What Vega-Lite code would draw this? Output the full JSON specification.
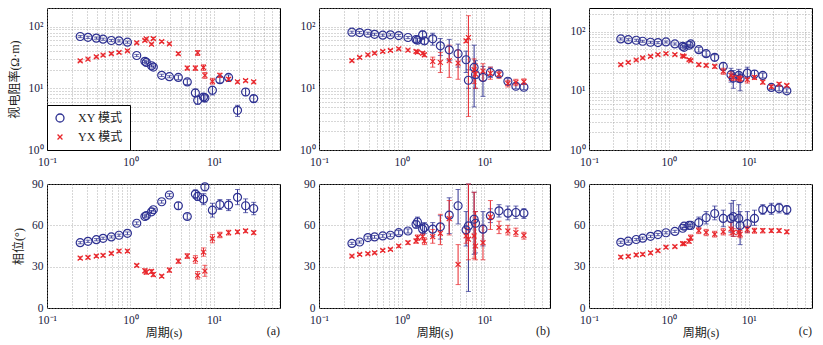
{
"$schema":"https://vega.github.io/schema/vega-lite/v6.json",
"background":"white",
"padding":{"left":8,"top":1,"right":5,"bottom":4},
"config":{
 "font":"Liberation Serif, serif",
 "view":{"stroke":"#000","strokeWidth":1},
 "axis":{"domain":false,"ticks":false,"grid":true,"gridDash":[1,2],"gridColor":"#999","gridWidth":0.8,"labelFont":"Liberation Serif, serif","labelFontSize":11.5,"labelColor":"#202040","labelFlush":false,"labelOverlap":false,"labelPadding":4,"titleFont":"Liberation Serif, Noto Sans CJK SC, serif","titleFontSize":12,"titleFontWeight":"normal","titleColor":"#222","titlePadding":6},
 "axisX":{"labelPadding":6},
 "title":{"font":"Liberation Serif, serif","fontSize":12,"fontWeight":"normal","color":"#222"}
},
"resolve":{"scale":{"color":"independent","shape":"independent","size":"independent"}},
"columns":3,
"spacing":{"row":34,"column":39},
"bounds":"flush",
"data":{"name":"mt"},
"datasets":{"mt":[
{"p":"a","m":"XY 模式","T":0.25,"r":69,"r0":66.2,"r1":71.8,"f":47.4,"f0":46.6,"f1":48.2},
{"p":"a","m":"XY 模式","T":0.31,"r":67,"r0":64.3,"r1":69.7,"f":48.4,"f0":47.6,"f1":49.2},
{"p":"a","m":"XY 模式","T":0.39,"r":65,"r0":62.4,"r1":67.6,"f":49.6,"f0":48.8,"f1":50.4},
{"p":"a","m":"XY 模式","T":0.47,"r":62.5,"r0":60,"r1":65,"f":50.6,"f0":49.8,"f1":51.4},
{"p":"a","m":"XY 模式","T":0.59,"r":59.5,"r0":57.1,"r1":61.9,"f":51.6,"f0":50.8,"f1":52.4},
{"p":"a","m":"XY 模式","T":0.73,"r":58.7,"r0":56.4,"r1":61,"f":52.8,"f0":52,"f1":53.6},
{"p":"a","m":"XY 模式","T":0.92,"r":55.9,"r0":53.7,"r1":58.1,"f":54.2,"f0":53.2,"f1":55.2},
{"p":"a","m":"XY 模式","T":1.19,"r":34,"r0":32.6,"r1":35.4,"f":61.5,"f0":60.5,"f1":62.5},
{"p":"a","m":"XY 模式","T":1.49,"r":27.3,"r0":26.2,"r1":28.4,"f":66.4,"f0":65.4,"f1":67.4},
{"p":"a","m":"XY 模式","T":1.55,"r":26.3,"r0":25.2,"r1":27.4,"f":67.1,"f0":66.1,"f1":68.1},
{"p":"a","m":"XY 模式","T":1.79,"r":23.2,"r0":22.3,"r1":24.1,"f":69.8,"f0":68.8,"f1":70.8},
{"p":"a","m":"XY 模式","T":1.88,"r":22.1,"r0":21.2,"r1":23,"f":71.3,"f0":70.3,"f1":72.3},
{"p":"a","m":"XY 模式","T":2.37,"r":16.2,"r0":15.5,"r1":16.9,"f":77.1,"f0":76.1,"f1":78.1},
{"p":"a","m":"XY 模式","T":2.93,"r":15.4,"r0":14.8,"r1":16,"f":82,"f0":81,"f1":83},
{"p":"a","m":"XY 模式","T":3.75,"r":15,"r0":13.8,"r1":16.3,"f":74.2,"f0":71.7,"f1":76.7},
{"p":"a","m":"XY 模式","T":4.8,"r":12.7,"r0":11.5,"r1":14,"f":66.4,"f0":64.4,"f1":68.4},
{"p":"a","m":"XY 模式","T":6.0,"r":8.4,"r0":7.3,"r1":9.6,"f":82.7,"f0":79.7,"f1":85.7},
{"p":"a","m":"XY 模式","T":6.4,"r":6.4,"r0":5.5,"r1":7.5,"f":81,"f0":78,"f1":84},
{"p":"a","m":"XY 模式","T":7.5,"r":7.2,"r0":6.2,"r1":8.2,"f":79,"f0":75,"f1":83},
{"p":"a","m":"XY 模式","T":7.8,"r":7,"r0":6,"r1":7.8,"f":88,"f0":85,"f1":90},
{"p":"a","m":"XY 模式","T":9.6,"r":9.3,"r0":7.8,"r1":10.8,"f":71,"f0":66,"f1":76},
{"p":"a","m":"XY 模式","T":11.8,"r":13.8,"r0":12.2,"r1":15.5,"f":75.1,"f0":71.5,"f1":78.7},
{"p":"a","m":"XY 模式","T":15,"r":15,"r0":13.5,"r1":16.5,"f":74.7,"f0":70.7,"f1":78.7},
{"p":"a","m":"XY 模式","T":19.2,"r":4.4,"r0":3.5,"r1":5.3,"f":80.3,"f0":75,"f1":86},
{"p":"a","m":"XY 模式","T":24,"r":8.7,"r0":7.6,"r1":9.9,"f":74.2,"f0":69.2,"f1":79.2},
{"p":"a","m":"XY 模式","T":30,"r":6.8,"r0":6,"r1":7.7,"f":72.2,"f0":67.7,"f1":76.7},
{"p":"a","m":"YX 模式","T":0.25,"r":27.9,"r0":26.8,"r1":29,"f":36.2,"f0":35.2,"f1":37.2},
{"p":"a","m":"YX 模式","T":0.31,"r":29.7,"r0":28.5,"r1":30.9,"f":36.7,"f0":35.7,"f1":37.7},
{"p":"a","m":"YX 模式","T":0.39,"r":32.4,"r0":31.1,"r1":33.7,"f":37.7,"f0":36.7,"f1":38.7},
{"p":"a","m":"YX 模式","T":0.47,"r":34.5,"r0":33.1,"r1":35.9,"f":38.2,"f0":37.2,"f1":39.2},
{"p":"a","m":"YX 模式","T":0.59,"r":36.3,"r0":34.8,"r1":37.8,"f":39.6,"f0":38.6,"f1":40.6},
{"p":"a","m":"YX 模式","T":0.73,"r":38.1,"r0":36.6,"r1":39.6,"f":41.3,"f0":40.3,"f1":42.3},
{"p":"a","m":"YX 模式","T":0.92,"r":40.5,"r0":38.9,"r1":42.1,"f":41.3,"f0":40.3,"f1":42.3},
{"p":"a","m":"YX 模式","T":1.19,"r":54.5,"r0":52.3,"r1":56.7,"f":30.9,"f0":29.9,"f1":31.9},
{"p":"a","m":"YX 模式","T":1.49,"r":59.5,"r0":57.1,"r1":61.9,"f":27,"f0":25.5,"f1":28.5},
{"p":"a","m":"YX 模式","T":1.55,"r":63.2,"r0":60.7,"r1":65.7,"f":26,"f0":24.5,"f1":27.5},
{"p":"a","m":"YX 模式","T":1.79,"r":51.9,"r0":49.8,"r1":54,"f":26.5,"f0":25,"f1":28},
{"p":"a","m":"YX 模式","T":1.88,"r":64,"r0":61.4,"r1":66.6,"f":24.3,"f0":22.8,"f1":25.8},
{"p":"a","m":"YX 模式","T":2.37,"r":57.3,"r0":55,"r1":59.6,"f":23.1,"f0":22.1,"f1":24.1},
{"p":"a","m":"YX 模式","T":2.93,"r":52.5,"r0":50.4,"r1":54.6,"f":27.5,"f0":26,"f1":29},
{"p":"a","m":"YX 模式","T":3.75,"r":36.3,"r0":34.5,"r1":38.1,"f":34,"f0":32.5,"f1":35.5},
{"p":"a","m":"YX 模式","T":4.8,"r":21.3,"r0":19.8,"r1":22.8,"f":37.7,"f0":36,"f1":39.4},
{"p":"a","m":"YX 模式","T":6.0,"r":21.3,"r0":19.5,"r1":23,"f":35.3,"f0":32.5,"f1":38},
{"p":"a","m":"YX 模式","T":6.4,"r":37.6,"r0":34,"r1":41,"f":23.6,"f0":21,"f1":26.5},
{"p":"a","m":"YX 模式","T":7.5,"r":21.8,"r0":19.5,"r1":24,"f":40.6,"f0":37.6,"f1":43.6},
{"p":"a","m":"YX 模式","T":7.8,"r":16.2,"r0":14.5,"r1":18,"f":26.8,"f0":23,"f1":31},
{"p":"a","m":"YX 模式","T":9.6,"r":13,"r0":11.7,"r1":14.5,"f":50.3,"f0":47.3,"f1":53.3},
{"p":"a","m":"YX 模式","T":11.8,"r":16.2,"r0":15,"r1":17.5,"f":53,"f0":51,"f1":55},
{"p":"a","m":"YX 模式","T":15,"r":14,"r0":13,"r1":15,"f":54.7,"f0":53,"f1":56.4},
{"p":"a","m":"YX 模式","T":19.2,"r":12.7,"r0":12.1,"r1":13.3,"f":55.2,"f0":54,"f1":56.4},
{"p":"a","m":"YX 模式","T":24,"r":13.3,"r0":12.7,"r1":13.9,"f":55.9,"f0":54.7,"f1":57.1},
{"p":"a","m":"YX 模式","T":30,"r":12.7,"r0":12.1,"r1":13.3,"f":54.7,"f0":53.5,"f1":55.9},
{"p":"b","m":"XY 模式","T":0.25,"r":81,"r0":77.8,"r1":84.2,"f":46.9,"f0":46.1,"f1":47.7},
{"p":"b","m":"XY 模式","T":0.31,"r":80,"r0":76.8,"r1":83.2,"f":47.9,"f0":47.1,"f1":48.7},
{"p":"b","m":"XY 模式","T":0.39,"r":78,"r0":74.9,"r1":81.1,"f":51.1,"f0":50.1,"f1":52.1},
{"p":"b","m":"XY 模式","T":0.47,"r":75,"r0":72,"r1":78,"f":51.6,"f0":50.6,"f1":52.6},
{"p":"b","m":"XY 模式","T":0.59,"r":72.5,"r0":69.6,"r1":75.4,"f":52.3,"f0":51.3,"f1":53.3},
{"p":"b","m":"XY 模式","T":0.73,"r":73.5,"r0":70.6,"r1":76.4,"f":52.8,"f0":51.8,"f1":53.8},
{"p":"b","m":"XY 模式","T":0.92,"r":71.6,"r0":68.7,"r1":74.5,"f":54.7,"f0":53.2,"f1":56.2},
{"p":"b","m":"XY 模式","T":1.19,"r":66.5,"r0":63.8,"r1":69.2,"f":55.9,"f0":54.4,"f1":57.4},
{"p":"b","m":"XY 模式","T":1.49,"r":61.7,"r0":55,"r1":68,"f":60.8,"f0":58,"f1":63},
{"p":"b","m":"XY 模式","T":1.55,"r":60.2,"r0":56,"r1":64.5,"f":62.5,"f0":59,"f1":66},
{"p":"b","m":"XY 模式","T":1.79,"r":73.5,"r0":62,"r1":85,"f":57.2,"f0":53,"f1":61},
{"p":"b","m":"XY 模式","T":1.88,"r":58.7,"r0":52,"r1":66,"f":58.4,"f0":54,"f1":62},
{"p":"b","m":"XY 模式","T":2.37,"r":63.3,"r0":50,"r1":78,"f":57.2,"f0":52,"f1":62},
{"p":"b","m":"XY 模式","T":2.93,"r":48.8,"r0":34,"r1":64,"f":58.9,"f0":50,"f1":67},
{"p":"b","m":"XY 模式","T":3.75,"r":42,"r0":28,"r1":62,"f":67.4,"f0":54,"f1":80},
{"p":"b","m":"XY 模式","T":4.8,"r":36.3,"r0":22,"r1":52,"f":74.2,"f0":61,"f1":86},
{"p":"b","m":"XY 模式","T":6.0,"r":29,"r0":18,"r1":40,"f":56.7,"f0":45,"f1":70},
{"p":"b","m":"XY 模式","T":6.4,"r":13.5,"r0":10,"r1":20,"f":59.6,"f0":12,"f1":90},
{"p":"b","m":"XY 模式","T":7.5,"r":21.8,"r0":5,"r1":50,"f":64.4,"f0":39,"f1":84},
{"p":"b","m":"XY 模式","T":7.8,"r":16.6,"r0":10,"r1":28,"f":61.5,"f0":40,"f1":70},
{"p":"b","m":"XY 模式","T":9.6,"r":15,"r0":7.4,"r1":22.6,"f":57.2,"f0":45,"f1":70},
{"p":"b","m":"XY 模式","T":11.8,"r":18.1,"r0":15,"r1":22,"f":66.9,"f0":62,"f1":72},
{"p":"b","m":"XY 模式","T":15,"r":17.2,"r0":15.5,"r1":19.5,"f":70.5,"f0":66,"f1":75},
{"p":"b","m":"XY 模式","T":19.2,"r":13,"r0":11.5,"r1":14.5,"f":68.8,"f0":64,"f1":74},
{"p":"b","m":"XY 模式","T":24,"r":10.8,"r0":9.8,"r1":12,"f":69.3,"f0":65,"f1":74},
{"p":"b","m":"XY 模式","T":30,"r":10.4,"r0":9.5,"r1":11.5,"f":68.8,"f0":65,"f1":72},
{"p":"b","m":"YX 模式","T":0.25,"r":28,"r0":26.9,"r1":29.1,"f":37.7,"f0":36.9,"f1":38.5},
{"p":"b","m":"YX 模式","T":0.31,"r":31.6,"r0":30.3,"r1":32.9,"f":38.9,"f0":38.1,"f1":39.7},
{"p":"b","m":"YX 模式","T":0.39,"r":34.9,"r0":33.5,"r1":36.3,"f":39.4,"f0":38.6,"f1":40.2},
{"p":"b","m":"YX 模式","T":0.47,"r":37.1,"r0":35.6,"r1":38.6,"f":40.1,"f0":39.3,"f1":40.9},
{"p":"b","m":"YX 模式","T":0.59,"r":39.5,"r0":37.9,"r1":41.1,"f":41.8,"f0":41,"f1":42.6},
{"p":"b","m":"YX 模式","T":0.73,"r":41,"r0":39.4,"r1":42.6,"f":42.6,"f0":41.8,"f1":43.4},
{"p":"b","m":"YX 模式","T":0.92,"r":43.6,"r0":41.9,"r1":45.3,"f":45,"f0":44,"f1":46},
{"p":"b","m":"YX 模式","T":1.19,"r":41.5,"r0":39.8,"r1":43.2,"f":47.4,"f0":46.2,"f1":48.6},
{"p":"b","m":"YX 模式","T":1.49,"r":39.5,"r0":37.5,"r1":41.5,"f":48.6,"f0":47,"f1":50.2},
{"p":"b","m":"YX 模式","T":1.55,"r":38.5,"r0":36.5,"r1":40.5,"f":51.1,"f0":49,"f1":53},
{"p":"b","m":"YX 模式","T":1.79,"r":37.1,"r0":35,"r1":39.2,"f":51.8,"f0":49.5,"f1":54},
{"p":"b","m":"YX 模式","T":1.88,"r":34.9,"r0":32.5,"r1":37.3,"f":48.6,"f0":46,"f1":51},
{"p":"b","m":"YX 模式","T":2.37,"r":27.3,"r0":22,"r1":32,"f":51.8,"f0":47,"f1":57},
{"p":"b","m":"YX 模式","T":2.93,"r":26.3,"r0":18,"r1":38,"f":54.2,"f0":46,"f1":68},
{"p":"b","m":"YX 模式","T":3.75,"r":28,"r0":15,"r1":50,"f":64.9,"f0":53,"f1":78},
{"p":"b","m":"YX 模式","T":4.8,"r":25.6,"r0":14,"r1":42,"f":31.6,"f0":17,"f1":46},
{"p":"b","m":"YX 模式","T":6.0,"r":58.7,"r0":55,"r1":62,"f":52.3,"f0":47,"f1":58},
{"p":"b","m":"YX 模式","T":6.4,"r":66.5,"r0":3.5,"r1":150,"f":49.9,"f0":35,"f1":90},
{"p":"b","m":"YX 模式","T":7.5,"r":20,"r0":12,"r1":30,"f":52.3,"f0":36,"f1":84},
{"p":"b","m":"YX 模式","T":7.8,"r":17,"r0":10,"r1":25,"f":45,"f0":35,"f1":70},
{"p":"b","m":"YX 模式","T":9.6,"r":19,"r0":13,"r1":25,"f":47.4,"f0":35,"f1":60},
{"p":"b","m":"YX 模式","T":11.8,"r":17.5,"r0":14,"r1":22,"f":66,"f0":57,"f1":78},
{"p":"b","m":"YX 模式","T":15,"r":16.8,"r0":14.5,"r1":19,"f":58.4,"f0":54,"f1":63},
{"p":"b","m":"YX 模式","T":19.2,"r":12,"r0":10.5,"r1":13.5,"f":55.9,"f0":53,"f1":60},
{"p":"b","m":"YX 模式","T":24,"r":12.5,"r0":11,"r1":14,"f":54.7,"f0":52,"f1":58},
{"p":"b","m":"YX 模式","T":30,"r":12.8,"r0":11.5,"r1":14.2,"f":52.8,"f0":50,"f1":55},
{"p":"c","m":"XY 模式","T":0.25,"r":75,"r0":72,"r1":78,"f":47.7,"f0":46.9,"f1":48.5},
{"p":"c","m":"XY 模式","T":0.31,"r":73,"r0":70.1,"r1":75.9,"f":48.5,"f0":47.7,"f1":49.3},
{"p":"c","m":"XY 模式","T":0.39,"r":71.3,"r0":68.4,"r1":74.2,"f":49.7,"f0":48.9,"f1":50.5},
{"p":"c","m":"XY 模式","T":0.47,"r":68.6,"r0":65.9,"r1":71.3,"f":50.7,"f0":49.9,"f1":51.5},
{"p":"c","m":"XY 模式","T":0.59,"r":66,"r0":63.4,"r1":68.6,"f":52,"f0":51.2,"f1":52.8},
{"p":"c","m":"XY 模式","T":0.73,"r":65.1,"r0":62.5,"r1":67.7,"f":53.3,"f0":52.5,"f1":54.1},
{"p":"c","m":"XY 模式","T":0.92,"r":66.8,"r0":64.1,"r1":69.5,"f":54.6,"f0":53.8,"f1":55.4},
{"p":"c","m":"XY 模式","T":1.19,"r":61.8,"r0":59.3,"r1":64.3,"f":55.6,"f0":54.8,"f1":56.4},
{"p":"c","m":"XY 模式","T":1.49,"r":56.4,"r0":54.1,"r1":58.7,"f":57.9,"f0":57.1,"f1":58.7},
{"p":"c","m":"XY 模式","T":1.55,"r":54.2,"r0":52,"r1":56.4,"f":59.4,"f0":58.4,"f1":60.4},
{"p":"c","m":"XY 模式","T":1.79,"r":58.7,"r0":56.4,"r1":61,"f":59.9,"f0":58.9,"f1":60.9},
{"p":"c","m":"XY 模式","T":1.88,"r":61.8,"r0":57,"r1":67,"f":59.9,"f0":58.9,"f1":60.9},
{"p":"c","m":"XY 模式","T":2.37,"r":49.5,"r0":45,"r1":54,"f":62,"f0":58,"f1":66},
{"p":"c","m":"XY 模式","T":2.93,"r":42.4,"r0":38,"r1":47,"f":65.5,"f0":61,"f1":70},
{"p":"c","m":"XY 模式","T":3.75,"r":36.7,"r0":32,"r1":41,"f":68.6,"f0":64,"f1":74},
{"p":"c","m":"XY 模式","T":4.8,"r":25.8,"r0":22,"r1":30,"f":65,"f0":59,"f1":71},
{"p":"c","m":"XY 模式","T":6.0,"r":18.7,"r0":14,"r1":24,"f":65,"f0":55,"f1":76},
{"p":"c","m":"XY 模式","T":6.4,"r":16.4,"r0":11,"r1":22,"f":66.3,"f0":52,"f1":78},
{"p":"c","m":"XY 模式","T":7.5,"r":18.2,"r0":14,"r1":23,"f":65,"f0":55,"f1":75},
{"p":"c","m":"XY 模式","T":7.8,"r":16,"r0":10,"r1":20,"f":59.9,"f0":46,"f1":70},
{"p":"c","m":"XY 模式","T":9.6,"r":19.9,"r0":16,"r1":25,"f":61.2,"f0":55,"f1":70},
{"p":"c","m":"XY 模式","T":11.8,"r":19.2,"r0":16,"r1":22,"f":65,"f0":60,"f1":71},
{"p":"c","m":"XY 模式","T":15,"r":18.2,"r0":16.5,"r1":20,"f":71.4,"f0":68,"f1":75},
{"p":"c","m":"XY 模式","T":19.2,"r":11.4,"r0":10.5,"r1":12.5,"f":71.9,"f0":68,"f1":76},
{"p":"c","m":"XY 模式","T":24,"r":10.8,"r0":10,"r1":11.8,"f":72.7,"f0":69,"f1":76},
{"p":"c","m":"XY 模式","T":30,"r":10,"r0":9.3,"r1":10.8,"f":71.4,"f0":68,"f1":74},
{"p":"c","m":"YX 模式","T":0.25,"r":27.6,"r0":26.5,"r1":28.7,"f":37,"f0":36,"f1":38},
{"p":"c","m":"YX 模式","T":0.31,"r":30.2,"r0":29,"r1":31.4,"f":37.5,"f0":36.5,"f1":38.5},
{"p":"c","m":"YX 模式","T":0.39,"r":33.1,"r0":31.8,"r1":34.4,"f":38.5,"f0":37.5,"f1":39.5},
{"p":"c","m":"YX 模式","T":0.47,"r":35.8,"r0":34.4,"r1":37.2,"f":39,"f0":38,"f1":40},
{"p":"c","m":"YX 模式","T":0.59,"r":38.2,"r0":36.7,"r1":39.7,"f":40,"f0":39,"f1":41},
{"p":"c","m":"YX 模式","T":0.73,"r":40.8,"r0":39.2,"r1":42.4,"f":41.6,"f0":40.6,"f1":42.6},
{"p":"c","m":"YX 模式","T":0.92,"r":42.4,"r0":40.7,"r1":44.1,"f":44.1,"f0":43.1,"f1":45.1},
{"p":"c","m":"YX 模式","T":1.19,"r":40.8,"r0":39.2,"r1":42.4,"f":44.6,"f0":43.6,"f1":45.6},
{"p":"c","m":"YX 模式","T":1.49,"r":38.7,"r0":37.2,"r1":40.2,"f":46.7,"f0":45.7,"f1":47.7},
{"p":"c","m":"YX 模式","T":1.55,"r":38.2,"r0":36.7,"r1":39.7,"f":46.7,"f0":45.7,"f1":47.7},
{"p":"c","m":"YX 模式","T":1.79,"r":33.5,"r0":32.2,"r1":34.8,"f":48.5,"f0":47,"f1":50},
{"p":"c","m":"YX 模式","T":1.88,"r":32.2,"r0":30.9,"r1":33.5,"f":51,"f0":49,"f1":53},
{"p":"c","m":"YX 模式","T":2.37,"r":27.6,"r0":26,"r1":29.2,"f":56.1,"f0":54,"f1":58.2},
{"p":"c","m":"YX 模式","T":2.93,"r":26.9,"r0":25.3,"r1":28.5,"f":54.8,"f0":52.5,"f1":57.1},
{"p":"c","m":"YX 模式","T":3.75,"r":25.8,"r0":24,"r1":27.6,"f":53.6,"f0":51.5,"f1":55.7},
{"p":"c","m":"YX 模式","T":4.8,"r":21.3,"r0":19,"r1":24,"f":55.3,"f0":53,"f1":57.6},
{"p":"c","m":"YX 模式","T":6.0,"r":18.2,"r0":15,"r1":21,"f":57.4,"f0":53,"f1":62},
{"p":"c","m":"YX 模式","T":6.4,"r":16.8,"r0":15,"r1":18.6,"f":54.8,"f0":52,"f1":57.6},
{"p":"c","m":"YX 模式","T":7.5,"r":16.4,"r0":14.5,"r1":18.3,"f":54.8,"f0":52,"f1":57.6},
{"p":"c","m":"YX 模式","T":7.8,"r":16,"r0":14.2,"r1":17.8,"f":53.6,"f0":51,"f1":56.2},
{"p":"c","m":"YX 模式","T":9.6,"r":15.4,"r0":13.5,"r1":17,"f":56.9,"f0":54.5,"f1":59.3},
{"p":"c","m":"YX 模式","T":11.8,"r":16.8,"r0":15.5,"r1":18.1,"f":56.1,"f0":54.3,"f1":57.9},
{"p":"c","m":"YX 模式","T":15,"r":14,"r0":13,"r1":15,"f":56.1,"f0":54.5,"f1":57.7},
{"p":"c","m":"YX 模式","T":19.2,"r":11.8,"r0":11,"r1":12.6,"f":56.1,"f0":54.8,"f1":57.4},
{"p":"c","m":"YX 模式","T":24,"r":13,"r0":12.2,"r1":13.8,"f":56.1,"f0":54.8,"f1":57.4},
{"p":"c","m":"YX 模式","T":30,"r":12.3,"r0":11.6,"r1":13,"f":55.3,"f0":54,"f1":56.6}
]},
"concat":[
{"width":233,"height":142,"transform":[{"filter":"datum.p=='a'"}],
 "layer":[
  {"transform":[{"filter":"datum.m=='XY 模式'"}],"mark":{"type":"errorbar","color":"#2e3192","thickness":1,"ticks":{"size":5,"thickness":1}},
   "encoding":{"x":{"field":"T","type":"quantitative","scale":{"type":"log","domain":[0.1,62],"nice":false},"axis":{"title":null,"values":[0.1,0.2,0.3,0.4,0.5,0.6,0.7,0.8,0.9,1,2,3,4,5,6,7,8,9,10,20,30,40,50,60],"labelExpr":"datum.value==0.1?'10⁻¹':datum.value==1?'10⁰':datum.value==10?'10¹':''"}},
    "y":{"field":"r0","type":"quantitative","scale":{"type":"log","domain":[1,200],"nice":false},"axis":{"title":"视电阻率(Ω·m)","values":[1,2,3,4,5,6,7,8,9,10,20,30,40,50,60,70,80,90,100,200],"labelExpr":"datum.value==1?'10⁰':datum.value==10?'10¹':datum.value==100?'10²':''"}},"y2":{"field":"r1"}}},
  {"transform":[{"filter":"datum.m=='YX 模式'"}],"mark":{"type":"errorbar","color":"#e8262b","thickness":1,"ticks":{"size":5,"thickness":1}},
   "encoding":{"x":{"field":"T","type":"quantitative","scale":{"type":"log","domain":[0.1,62],"nice":false},"axis":{"title":null,"values":[0.1,0.2,0.3,0.4,0.5,0.6,0.7,0.8,0.9,1,2,3,4,5,6,7,8,9,10,20,30,40,50,60],"labelExpr":"datum.value==0.1?'10⁻¹':datum.value==1?'10⁰':datum.value==10?'10¹':''"}},
    "y":{"field":"r0","type":"quantitative","scale":{"type":"log","domain":[1,200],"nice":false},"axis":{"title":"视电阻率(Ω·m)","values":[1,2,3,4,5,6,7,8,9,10,20,30,40,50,60,70,80,90,100,200],"labelExpr":"datum.value==1?'10⁰':datum.value==10?'10¹':datum.value==100?'10²':''"}},"y2":{"field":"r1"}}},
  {"mark":{"type":"point","filled":false,"strokeWidth":1.2,"opacity":1},
   "encoding":{"x":{"field":"T","type":"quantitative","scale":{"type":"log","domain":[0.1,62],"nice":false},"axis":{"title":null,"values":[0.1,0.2,0.3,0.4,0.5,0.6,0.7,0.8,0.9,1,2,3,4,5,6,7,8,9,10,20,30,40,50,60],"labelExpr":"datum.value==0.1?'10⁻¹':datum.value==1?'10⁰':datum.value==10?'10¹':''"}},
    "y":{"field":"r","type":"quantitative","scale":{"type":"log","domain":[1,200],"nice":false},"axis":{"title":"视电阻率(Ω·m)","values":[1,2,3,4,5,6,7,8,9,10,20,30,40,50,60,70,80,90,100,200],"labelExpr":"datum.value==1?'10⁰':datum.value==10?'10¹':datum.value==100?'10²':''"}},
    "color":{"field":"m","type":"nominal","scale":{"domain":["XY 模式","YX 模式"],"range":["#2e3192","#e8262b"]},"legend":{"title":null,"orient":"bottom-left","offset":0,"strokeColor":"#000","fillColor":"#fff","padding":7,"rowPadding":6,"labelFontSize":12,"labelFont":"Liberation Serif, Noto Sans CJK SC, serif","labelColor":"#222","labelOffset":12,"symbolStrokeWidth":1.3,"symbolSize":60}},
    "shape":{"field":"m","type":"nominal","scale":{"domain":["XY 模式","YX 模式"],"range":["circle","M-0.7,-0.7L0.7,0.7M-0.7,0.7L0.7,-0.7"]},"legend":{"title":null,"orient":"bottom-left","offset":0,"strokeColor":"#000","fillColor":"#fff","padding":7,"rowPadding":6,"labelFontSize":12,"labelFont":"Liberation Serif, Noto Sans CJK SC, serif","labelColor":"#222","labelOffset":12,"symbolStrokeWidth":1.3,"symbolSize":60}},
    "size":{"field":"m","type":"nominal","scale":{"domain":["XY 模式","YX 模式"],"range":[64,49]},"legend":null}}}
 ]},
{"width":231,"height":142,"transform":[{"filter":"datum.p=='b'"}],
 "layer":[
  {"transform":[{"filter":"datum.m=='XY 模式'"}],"mark":{"type":"errorbar","color":"#2e3192","thickness":1,"ticks":{"size":5,"thickness":1}},
   "encoding":{"x":{"field":"T","type":"quantitative","scale":{"type":"log","domain":[0.1,62],"nice":false},"axis":{"title":null,"values":[0.1,0.2,0.3,0.4,0.5,0.6,0.7,0.8,0.9,1,2,3,4,5,6,7,8,9,10,20,30,40,50,60],"labelExpr":"datum.value==0.1?'10⁻¹':datum.value==1?'10⁰':datum.value==10?'10¹':''"}},
    "y":{"field":"r0","type":"quantitative","scale":{"type":"log","domain":[1,200],"nice":false},"axis":{"title":null,"values":[1,2,3,4,5,6,7,8,9,10,20,30,40,50,60,70,80,90,100,200],"labelExpr":"datum.value==1?'10⁰':datum.value==10?'10¹':datum.value==100?'10²':''"}},"y2":{"field":"r1"}}},
  {"transform":[{"filter":"datum.m=='YX 模式'"}],"mark":{"type":"errorbar","color":"#e8262b","thickness":1,"ticks":{"size":5,"thickness":1}},
   "encoding":{"x":{"field":"T","type":"quantitative","scale":{"type":"log","domain":[0.1,62],"nice":false},"axis":{"title":null,"values":[0.1,0.2,0.3,0.4,0.5,0.6,0.7,0.8,0.9,1,2,3,4,5,6,7,8,9,10,20,30,40,50,60],"labelExpr":"datum.value==0.1?'10⁻¹':datum.value==1?'10⁰':datum.value==10?'10¹':''"}},
    "y":{"field":"r0","type":"quantitative","scale":{"type":"log","domain":[1,200],"nice":false,"clamp":true},"axis":{"title":null,"values":[1,2,3,4,5,6,7,8,9,10,20,30,40,50,60,70,80,90,100,200],"labelExpr":"datum.value==1?'10⁰':datum.value==10?'10¹':datum.value==100?'10²':''"}},"y2":{"field":"r1"}}},
  {"mark":{"type":"point","filled":false,"strokeWidth":1.2,"opacity":1},
   "encoding":{"x":{"field":"T","type":"quantitative","scale":{"type":"log","domain":[0.1,62],"nice":false},"axis":{"title":null,"values":[0.1,0.2,0.3,0.4,0.5,0.6,0.7,0.8,0.9,1,2,3,4,5,6,7,8,9,10,20,30,40,50,60],"labelExpr":"datum.value==0.1?'10⁻¹':datum.value==1?'10⁰':datum.value==10?'10¹':''"}},
    "y":{"field":"r","type":"quantitative","scale":{"type":"log","domain":[1,200],"nice":false},"axis":{"title":null,"values":[1,2,3,4,5,6,7,8,9,10,20,30,40,50,60,70,80,90,100,200],"labelExpr":"datum.value==1?'10⁰':datum.value==10?'10¹':datum.value==100?'10²':''"}},
    "color":{"field":"m","type":"nominal","scale":{"domain":["XY 模式","YX 模式"],"range":["#2e3192","#e8262b"]},"legend":null},
    "shape":{"field":"m","type":"nominal","scale":{"domain":["XY 模式","YX 模式"],"range":["circle","M-0.7,-0.7L0.7,0.7M-0.7,0.7L0.7,-0.7"]},"legend":null},
    "size":{"field":"m","type":"nominal","scale":{"domain":["XY 模式","YX 模式"],"range":[64,49]},"legend":null}}}
 ]},
{"width":223,"height":142,"transform":[{"filter":"datum.p=='c'"}],
 "layer":[
  {"transform":[{"filter":"datum.m=='XY 模式'"}],"mark":{"type":"errorbar","color":"#2e3192","thickness":1,"ticks":{"size":5,"thickness":1}},
   "encoding":{"x":{"field":"T","type":"quantitative","scale":{"type":"log","domain":[0.1,62],"nice":false},"axis":{"title":null,"values":[0.1,0.2,0.3,0.4,0.5,0.6,0.7,0.8,0.9,1,2,3,4,5,6,7,8,9,10,20,30,40,50,60],"labelExpr":"datum.value==0.1?'10⁻¹':datum.value==1?'10⁰':datum.value==10?'10¹':''"}},
    "y":{"field":"r0","type":"quantitative","scale":{"type":"log","domain":[1,250],"nice":false},"axis":{"title":null,"values":[1,2,3,4,5,6,7,8,9,10,20,30,40,50,60,70,80,90,100,200],"labelExpr":"datum.value==1?'10⁰':datum.value==10?'10¹':datum.value==100?'10²':''"}},"y2":{"field":"r1"}}},
  {"transform":[{"filter":"datum.m=='YX 模式'"}],"mark":{"type":"errorbar","color":"#e8262b","thickness":1,"ticks":{"size":5,"thickness":1}},
   "encoding":{"x":{"field":"T","type":"quantitative","scale":{"type":"log","domain":[0.1,62],"nice":false},"axis":{"title":null,"values":[0.1,0.2,0.3,0.4,0.5,0.6,0.7,0.8,0.9,1,2,3,4,5,6,7,8,9,10,20,30,40,50,60],"labelExpr":"datum.value==0.1?'10⁻¹':datum.value==1?'10⁰':datum.value==10?'10¹':''"}},
    "y":{"field":"r0","type":"quantitative","scale":{"type":"log","domain":[1,250],"nice":false},"axis":{"title":null,"values":[1,2,3,4,5,6,7,8,9,10,20,30,40,50,60,70,80,90,100,200],"labelExpr":"datum.value==1?'10⁰':datum.value==10?'10¹':datum.value==100?'10²':''"}},"y2":{"field":"r1"}}},
  {"mark":{"type":"point","filled":false,"strokeWidth":1.2,"opacity":1},
   "encoding":{"x":{"field":"T","type":"quantitative","scale":{"type":"log","domain":[0.1,62],"nice":false},"axis":{"title":null,"values":[0.1,0.2,0.3,0.4,0.5,0.6,0.7,0.8,0.9,1,2,3,4,5,6,7,8,9,10,20,30,40,50,60],"labelExpr":"datum.value==0.1?'10⁻¹':datum.value==1?'10⁰':datum.value==10?'10¹':''"}},
    "y":{"field":"r","type":"quantitative","scale":{"type":"log","domain":[1,250],"nice":false},"axis":{"title":null,"values":[1,2,3,4,5,6,7,8,9,10,20,30,40,50,60,70,80,90,100,200],"labelExpr":"datum.value==1?'10⁰':datum.value==10?'10¹':datum.value==100?'10²':''"}},
    "color":{"field":"m","type":"nominal","scale":{"domain":["XY 模式","YX 模式"],"range":["#2e3192","#e8262b"]},"legend":null},
    "shape":{"field":"m","type":"nominal","scale":{"domain":["XY 模式","YX 模式"],"range":["circle","M-0.7,-0.7L0.7,0.7M-0.7,0.7L0.7,-0.7"]},"legend":null},
    "size":{"field":"m","type":"nominal","scale":{"domain":["XY 模式","YX 模式"],"range":[64,49]},"legend":null}}}
 ]},
{"width":233,"height":124,"transform":[{"filter":"datum.p=='a'"}],
 "title":{"text":"(a)","orient":"bottom","anchor":"end","frame":"group","offset":-13},
 "layer":[
  {"transform":[{"filter":"datum.m=='XY 模式'"}],"mark":{"type":"errorbar","color":"#2e3192","thickness":1,"ticks":{"size":5,"thickness":1}},
   "encoding":{"x":{"field":"T","type":"quantitative","scale":{"type":"log","domain":[0.1,62],"nice":false},"axis":{"title":"周期(s)","titlePadding":2,"values":[0.1,0.2,0.3,0.4,0.5,0.6,0.7,0.8,0.9,1,2,3,4,5,6,7,8,9,10,20,30,40,50,60],"labelExpr":"datum.value==0.1?'10⁻¹':datum.value==1?'10⁰':datum.value==10?'10¹':''"}},
    "y":{"field":"f0","type":"quantitative","scale":{"domain":[0,90],"nice":false},"axis":{"title":"相位(°)","values":[0,30,60,90]}},"y2":{"field":"f1"}}},
  {"transform":[{"filter":"datum.m=='YX 模式'"}],"mark":{"type":"errorbar","color":"#e8262b","thickness":1,"ticks":{"size":5,"thickness":1}},
   "encoding":{"x":{"field":"T","type":"quantitative","scale":{"type":"log","domain":[0.1,62],"nice":false},"axis":{"title":"周期(s)","titlePadding":2,"values":[0.1,0.2,0.3,0.4,0.5,0.6,0.7,0.8,0.9,1,2,3,4,5,6,7,8,9,10,20,30,40,50,60],"labelExpr":"datum.value==0.1?'10⁻¹':datum.value==1?'10⁰':datum.value==10?'10¹':''"}},
    "y":{"field":"f0","type":"quantitative","scale":{"domain":[0,90],"nice":false},"axis":{"title":"相位(°)","values":[0,30,60,90]}},"y2":{"field":"f1"}}},
  {"mark":{"type":"point","filled":false,"strokeWidth":1.2,"opacity":1},
   "encoding":{"x":{"field":"T","type":"quantitative","scale":{"type":"log","domain":[0.1,62],"nice":false},"axis":{"title":"周期(s)","titlePadding":2,"values":[0.1,0.2,0.3,0.4,0.5,0.6,0.7,0.8,0.9,1,2,3,4,5,6,7,8,9,10,20,30,40,50,60],"labelExpr":"datum.value==0.1?'10⁻¹':datum.value==1?'10⁰':datum.value==10?'10¹':''"}},
    "y":{"field":"f","type":"quantitative","scale":{"domain":[0,90],"nice":false},"axis":{"title":"相位(°)","values":[0,30,60,90]}},
    "color":{"field":"m","type":"nominal","scale":{"domain":["XY 模式","YX 模式"],"range":["#2e3192","#e8262b"]},"legend":null},
    "shape":{"field":"m","type":"nominal","scale":{"domain":["XY 模式","YX 模式"],"range":["circle","M-0.7,-0.7L0.7,0.7M-0.7,0.7L0.7,-0.7"]},"legend":null},
    "size":{"field":"m","type":"nominal","scale":{"domain":["XY 模式","YX 模式"],"range":[64,49]},"legend":null}}}
 ]},
{"width":231,"height":124,"transform":[{"filter":"datum.p=='b'"}],
 "title":{"text":"(b)","orient":"bottom","anchor":"end","frame":"group","offset":-13},
 "layer":[
  {"transform":[{"filter":"datum.m=='XY 模式'"}],"mark":{"type":"errorbar","color":"#2e3192","thickness":1,"ticks":{"size":5,"thickness":1}},
   "encoding":{"x":{"field":"T","type":"quantitative","scale":{"type":"log","domain":[0.1,62],"nice":false},"axis":{"title":"周期(s)","titlePadding":2,"values":[0.1,0.2,0.3,0.4,0.5,0.6,0.7,0.8,0.9,1,2,3,4,5,6,7,8,9,10,20,30,40,50,60],"labelExpr":"datum.value==0.1?'10⁻¹':datum.value==1?'10⁰':datum.value==10?'10¹':''"}},
    "y":{"field":"f0","type":"quantitative","scale":{"domain":[0,90],"nice":false},"axis":{"title":null,"values":[0,30,60,90]}},"y2":{"field":"f1"}}},
  {"transform":[{"filter":"datum.m=='YX 模式'"}],"mark":{"type":"errorbar","color":"#e8262b","thickness":1,"ticks":{"size":5,"thickness":1}},
   "encoding":{"x":{"field":"T","type":"quantitative","scale":{"type":"log","domain":[0.1,62],"nice":false},"axis":{"title":"周期(s)","titlePadding":2,"values":[0.1,0.2,0.3,0.4,0.5,0.6,0.7,0.8,0.9,1,2,3,4,5,6,7,8,9,10,20,30,40,50,60],"labelExpr":"datum.value==0.1?'10⁻¹':datum.value==1?'10⁰':datum.value==10?'10¹':''"}},
    "y":{"field":"f0","type":"quantitative","scale":{"domain":[0,90],"nice":false},"axis":{"title":null,"values":[0,30,60,90]}},"y2":{"field":"f1"}}},
  {"mark":{"type":"point","filled":false,"strokeWidth":1.2,"opacity":1},
   "encoding":{"x":{"field":"T","type":"quantitative","scale":{"type":"log","domain":[0.1,62],"nice":false},"axis":{"title":"周期(s)","titlePadding":2,"values":[0.1,0.2,0.3,0.4,0.5,0.6,0.7,0.8,0.9,1,2,3,4,5,6,7,8,9,10,20,30,40,50,60],"labelExpr":"datum.value==0.1?'10⁻¹':datum.value==1?'10⁰':datum.value==10?'10¹':''"}},
    "y":{"field":"f","type":"quantitative","scale":{"domain":[0,90],"nice":false},"axis":{"title":null,"values":[0,30,60,90]}},
    "color":{"field":"m","type":"nominal","scale":{"domain":["XY 模式","YX 模式"],"range":["#2e3192","#e8262b"]},"legend":null},
    "shape":{"field":"m","type":"nominal","scale":{"domain":["XY 模式","YX 模式"],"range":["circle","M-0.7,-0.7L0.7,0.7M-0.7,0.7L0.7,-0.7"]},"legend":null},
    "size":{"field":"m","type":"nominal","scale":{"domain":["XY 模式","YX 模式"],"range":[64,49]},"legend":null}}}
 ]},
{"width":223,"height":124,"transform":[{"filter":"datum.p=='c'"}],
 "title":{"text":"(c)","orient":"bottom","anchor":"end","frame":"group","offset":-13},
 "layer":[
  {"transform":[{"filter":"datum.m=='XY 模式'"}],"mark":{"type":"errorbar","color":"#2e3192","thickness":1,"ticks":{"size":5,"thickness":1}},
   "encoding":{"x":{"field":"T","type":"quantitative","scale":{"type":"log","domain":[0.1,62],"nice":false},"axis":{"title":"周期(s)","titlePadding":2,"values":[0.1,0.2,0.3,0.4,0.5,0.6,0.7,0.8,0.9,1,2,3,4,5,6,7,8,9,10,20,30,40,50,60],"labelExpr":"datum.value==0.1?'10⁻¹':datum.value==1?'10⁰':datum.value==10?'10¹':''"}},
    "y":{"field":"f0","type":"quantitative","scale":{"domain":[0,90],"nice":false},"axis":{"title":null,"values":[0,30,60,90]}},"y2":{"field":"f1"}}},
  {"transform":[{"filter":"datum.m=='YX 模式'"}],"mark":{"type":"errorbar","color":"#e8262b","thickness":1,"ticks":{"size":5,"thickness":1}},
   "encoding":{"x":{"field":"T","type":"quantitative","scale":{"type":"log","domain":[0.1,62],"nice":false},"axis":{"title":"周期(s)","titlePadding":2,"values":[0.1,0.2,0.3,0.4,0.5,0.6,0.7,0.8,0.9,1,2,3,4,5,6,7,8,9,10,20,30,40,50,60],"labelExpr":"datum.value==0.1?'10⁻¹':datum.value==1?'10⁰':datum.value==10?'10¹':''"}},
    "y":{"field":"f0","type":"quantitative","scale":{"domain":[0,90],"nice":false},"axis":{"title":null,"values":[0,30,60,90]}},"y2":{"field":"f1"}}},
  {"mark":{"type":"point","filled":false,"strokeWidth":1.2,"opacity":1},
   "encoding":{"x":{"field":"T","type":"quantitative","scale":{"type":"log","domain":[0.1,62],"nice":false},"axis":{"title":"周期(s)","titlePadding":2,"values":[0.1,0.2,0.3,0.4,0.5,0.6,0.7,0.8,0.9,1,2,3,4,5,6,7,8,9,10,20,30,40,50,60],"labelExpr":"datum.value==0.1?'10⁻¹':datum.value==1?'10⁰':datum.value==10?'10¹':''"}},
    "y":{"field":"f","type":"quantitative","scale":{"domain":[0,90],"nice":false},"axis":{"title":null,"values":[0,30,60,90]}},
    "color":{"field":"m","type":"nominal","scale":{"domain":["XY 模式","YX 模式"],"range":["#2e3192","#e8262b"]},"legend":null},
    "shape":{"field":"m","type":"nominal","scale":{"domain":["XY 模式","YX 模式"],"range":["circle","M-0.7,-0.7L0.7,0.7M-0.7,0.7L0.7,-0.7"]},"legend":null},
    "size":{"field":"m","type":"nominal","scale":{"domain":["XY 模式","YX 模式"],"range":[64,49]},"legend":null}}}
 ]}
]
}
